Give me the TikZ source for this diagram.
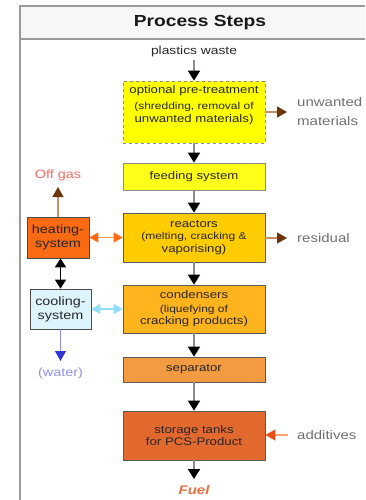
\documentclass[tikz,border=0pt]{standalone}
\usepackage{fontspec}
\setmainfont{Liberation Sans}[FakeStretch=1.2]
\usetikzlibrary{arrows.meta}
\definecolor{frameg}{HTML}{9A9A9A}
\definecolor{hdrbg}{HTML}{F7F7F7}
\definecolor{pyel}{HTML}{FFFF00}
\definecolor{fyel}{HTML}{FFFF1A}
\definecolor{reac}{HTML}{FFCC00}
\definecolor{cond}{HTML}{FFB41E}
\definecolor{sepc}{HTML}{F29B40}
\definecolor{stor}{HTML}{E2692E}
\definecolor{heat}{HTML}{F96A12}
\definecolor{cool}{HTML}{DDF4FD}
\definecolor{brownhead}{HTML}{6E3408}
\definecolor{brownline}{HTML}{C8906A}
\definecolor{offgas}{HTML}{F86A60}
\definecolor{orline}{HTML}{FF9A50}
\definecolor{orhead}{HTML}{FF6A10}
\definecolor{bluel}{HTML}{8FDDFF}
\definecolor{bluehead}{HTML}{3535D0}
\definecolor{bluel2}{HTML}{8C8CF0}
\definecolor{water}{HTML}{8E8EF0}
\definecolor{addline}{HTML}{FFA070}
\definecolor{addhead}{HTML}{E8501A}
\definecolor{fuel}{HTML}{E87040}
\definecolor{sidetxt}{HTML}{707070}
\definecolor{boxtxt}{HTML}{262626}
\tikzset{
  procbox/.style={draw=black!65, line width=0.7pt, minimum width=142pt, align=center,
    inner sep=0pt, text=boxtxt, font=\fontsize{11}{12.5}\selectfont},
  sidebox/.style={draw=black!70, line width=0.7pt, align=center, inner sep=0pt,
    text=boxtxt, font=\fontsize{12}{14}\selectfont},
  mainarrow/.style={draw=black!45, line width=1.8pt,
    -{Triangle[width=12pt,length=10pt,color=black]}},
  brownarrow/.style={draw=brownline, line width=1.2pt,
    -{Triangle[width=11pt,length=10pt,color=brownhead]}},
  sidetext/.style={text=sidetxt, font=\fontsize{12.5}{19}\selectfont, anchor=west, align=left, inner sep=0pt},
}
\newcommand{\subtsize}{\fontsize{10}{12.3}\selectfont}
\begin{document}
\begin{tikzpicture}[x=1pt,y=-1pt]
\useasboundingbox (0,0) rectangle (365,500);
% frame
\fill[hdrbg] (20,6) rectangle (365,39);
\draw[frameg, line width=2pt] (365,6) -- (20,6) -- (20,500);
\draw[frameg, line width=2pt] (20,39) -- (365,39);
\node[font=\bfseries\fontsize{16}{18}\selectfont, text=black!90] (title) at (200,22.5) {Process Steps};

% main boxes
\node[procbox, fill=pyel, draw=black!45, dashed, minimum height=62pt] (pre) at (194,112)
  {optional pre-treatment\\[4pt]\subtsize (shredding, removal of\\unwanted materials)\\[4pt]};
\node[procbox, fill=fyel, draw=black!45, minimum height=27pt] (feed) at (194,176.5) {feeding system};
\node[procbox, fill=reac, minimum height=49pt] (reac) at (194,237.5)
  {reactors\\\subtsize (melting, cracking \&\\vaporising)};
\node[procbox, fill=cond, minimum height=48pt] (cond) at (194,309)
  {condensers\\[1pt]\subtsize (liquefying of\\cracking products)};
\node[procbox, fill=sepc, minimum height=25pt] (sep) at (194,369.5) {separator};
\node[procbox, fill=stor, minimum height=49pt] (stor) at (194,435.5)
  {storage tanks\\for PCS-Product};

% side boxes
\node[sidebox, fill=heat, minimum width=62pt, minimum height=41pt] (heat) at (58,237.5) {heating-\\system};
\node[sidebox, fill=cool, minimum width=61pt, minimum height=40pt] (cool) at (60.5,309) {cooling-\\system};

% texts
\node[text=black!85, font=\fontsize{11.5}{13}\selectfont, inner sep=0pt] (waste) at (194,52) {plastics waste};
\node[text=fuel, font=\bfseries\itshape\fontsize{12.5}{14}\selectfont, inner sep=0pt] (fuel) at (194,490) {Fuel};
\node[sidetext] (unw) at (297,111.5) {unwanted\\materials};
\node[sidetext] (resid) at (297,238) {residual};
\node[sidetext] (addi) at (297,435) {additives};
\node[text=offgas, font=\fontsize{12}{14}\selectfont, inner sep=0pt] (off) at (58,175) {Off gas};
\node[text=water, font=\fontsize{12}{14}\selectfont, inner sep=0pt] (wat) at (60.5,373) {(water)};

% coordinates for arrow ends
\coordinate (unwend) at (287,112);
\coordinate (residend) at (287,238);
\coordinate (addstart) at (288,435);
\coordinate (wastebot) at (194,60);
\coordinate (fueltop) at (194,479);
\coordinate (wattop) at (60.5,361);
\coordinate (offbot) at (58,187);

% main flow
\draw[mainarrow] (wastebot) -- (pre.north);
\draw[mainarrow] (pre.south) -- (feed.north);
\draw[mainarrow] (feed.south) -- (reac.north);
\draw[mainarrow] (reac.south) -- (cond.north);
\draw[mainarrow] (cond.south) -- (sep.north);
\draw[mainarrow] (sep.south) -- (stor.north);
\draw[mainarrow] (stor.south) -- (fueltop);

% side flows
\draw[brownarrow] (pre.east |- unwend) -- (unwend);
\draw[brownarrow] (reac.east |- residend) -- (residend);
\draw[brownarrow] (heat.north) -- (offbot);
\draw[draw=addline, line width=1.2pt, -{Triangle[width=11pt,length=10pt,color=addhead]}]
  (addstart) -- (stor.east |- addstart);
\draw[draw=orline, line width=1.2pt,
  {Triangle[width=10pt,length=9pt,color=orhead]}-{Triangle[width=10pt,length=9pt,color=orhead]}]
  (heat.east) -- (reac.west |- heat.east);
\draw[draw=bluel, line width=1.2pt,
  {Triangle[width=10pt,length=9pt,color=bluel]}-{Triangle[width=10pt,length=9pt,color=bluel]}]
  (cool.east) -- (cond.west |- cool.east);
\draw[draw=black, line width=1.4pt,
  {Triangle[width=11pt,length=9pt,color=black]}-{Triangle[width=11pt,length=9pt,color=black]}]
  (heat.south -| cool.north) -- (cool.north);
\draw[draw=bluel2, line width=1.2pt, -{Triangle[width=11pt,length=10pt,color=bluehead]}]
  (cool.south) -- (wattop);
\end{tikzpicture}
\end{document}
